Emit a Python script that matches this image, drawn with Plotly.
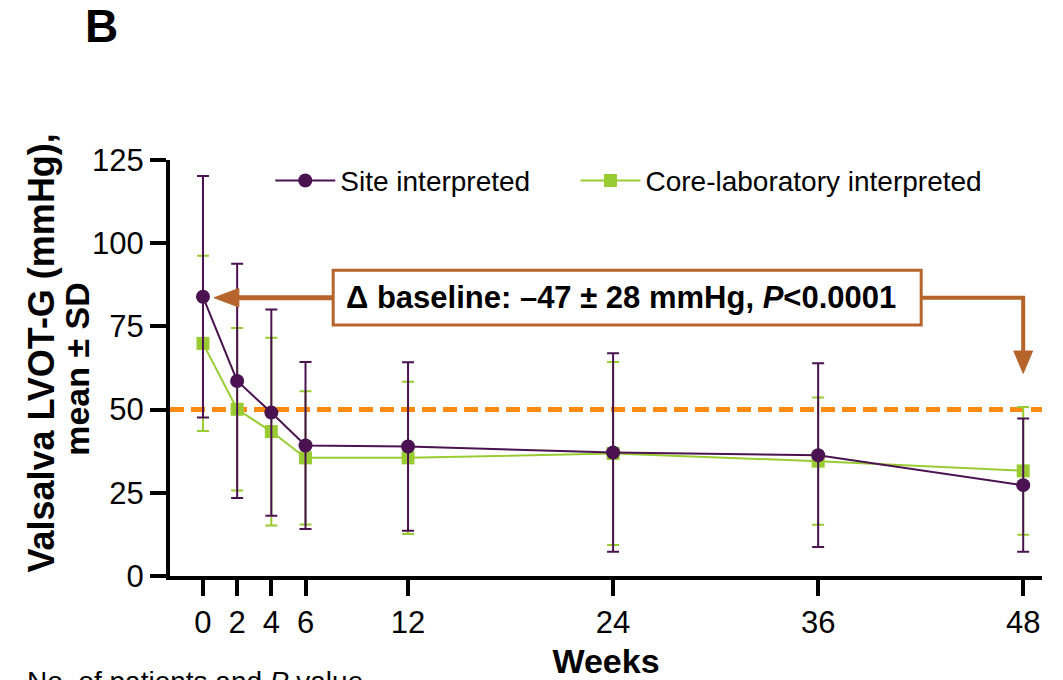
import plotly.graph_objects as go

weeks = [0, 2, 4, 6, 12, 24, 36, 48]
tick_labels = ["0", "2", "4", "6", "12", "24", "36", "48"]

site_mean = [83.9, 58.6, 49.1, 39.2, 38.9, 37.1, 36.3, 27.3]
site_sd = [36.3, 35.2, 31.0, 25.1, 25.3, 29.8, 27.6, 20.0]

core_mean = [69.9, 50.1, 43.4, 35.5, 35.5, 36.8, 34.5, 31.6]
core_sd = [26.3, 24.4, 28.2, 20.0, 22.9, 27.5, 19.1, 19.2]

threshold = 50
y_ticks = [0, 25, 50, 75, 100, 125]

PURPLE = "#4A1250"
GREEN = "#99CC33"
ORANGE = "#FF8A12"
BROWN = "#B5652B"
FONT = "Liberation Sans, Arial, sans-serif"

fig = go.Figure()

fig.add_trace(go.Scatter(
    x=weeks, y=core_mean, name="Core-laboratory interpreted",
    mode="lines+markers", legend="legend2",
    line=dict(color=GREEN, width=2),
    marker=dict(symbol="square", size=13, color=GREEN),
    error_y=dict(type="data", array=core_sd, symmetric=True,
                 color=GREEN, thickness=2, width=6),
))
fig.add_trace(go.Scatter(
    x=weeks, y=site_mean, name="Site interpreted",
    mode="lines+markers", legend="legend",
    line=dict(color=PURPLE, width=2),
    marker=dict(symbol="circle", size=14, color=PURPLE),
    error_y=dict(type="data", array=site_sd, symmetric=True,
                 color=PURPLE, thickness=2, width=6),
))

# threshold dashed line
fig.add_shape(type="line", xref="paper", x0=0, x1=1, yref="y",
              y0=threshold, y1=threshold,
              line=dict(color=ORANGE, width=5, dash="14px,7px"), layer="below")

# annotation box and arrows
y_arrow = 83.6
box_x0, box_x1 = 7.62, 42.03
box_y0, box_y1 = 75.4, 91.9
fig.add_shape(type="line", x0=box_x0, x1=2.0, y0=y_arrow, y1=y_arrow,
              line=dict(color=BROWN, width=5))
fig.add_shape(type="path",
              path=f"M 0.65 {y_arrow} L 2.1 {y_arrow+2.8} L 2.1 {y_arrow-2.8} Z",
              fillcolor=BROWN, line=dict(color=BROWN, width=1))
fig.add_shape(type="path",
              path=f"M {box_x1} {y_arrow} L {weeks[-1]} {y_arrow} L {weeks[-1]} 67.5",
              line=dict(color=BROWN, width=4))
fig.add_shape(type="path",
              path=f"M {weeks[-1]-0.55} 67.6 L {weeks[-1]+0.55} 67.6 L {weeks[-1]} 60.9 Z",
              fillcolor=BROWN, line=dict(color=BROWN, width=1))
fig.add_shape(type="rect", x0=box_x0, x1=box_x1, y0=box_y0, y1=box_y1,
              line=dict(color=BROWN, width=3), fillcolor="white")
fig.add_annotation(x=(box_x0 + box_x1) / 2 - 0.35, y=(box_y0 + box_y1) / 2,
                   xanchor="center", yanchor="middle",
                   text="<b>Δ baseline: –47 ± 28 mmHg, <i>P</i>&lt;0.0001</b>",
                   showarrow=False, font=dict(size=31, color="black", family=FONT))

# y-axis title (two lines)
fig.add_annotation(xref="paper", yref="paper", x=-0.1468, y=0.537,
                   xanchor="center", yanchor="middle",
                   text="<b>Valsalva LVOT-G (mmHg),</b>", textangle=-90,
                   showarrow=False, font=dict(size=36, color="black", family=FONT))
fig.add_annotation(xref="paper", yref="paper", x=-0.1067, y=0.498,
                   xanchor="center", yanchor="middle",
                   text="<b>mean ± SD</b>", textangle=-90,
                   showarrow=False, font=dict(size=34, color="black", family=FONT))

# panel letter
fig.add_annotation(xref="paper", yref="paper", x=-0.078, y=1.322,
                   xanchor="center", yanchor="middle",
                   text="<b>B</b>", showarrow=False,
                   font=dict(size=46, color="black", family=FONT))
# bottom partial label
fig.add_annotation(xref="paper", yref="paper", x=-0.1663, y=-0.211,
                   xanchor="left", yanchor="top",
                   text="No. of patients and <i>P</i> value", showarrow=False,
                   font=dict(size=28, color="black", family=FONT))

fig.update_layout(
    width=1055, height=672,
    margin=dict(l=162, r=21, t=152, b=104, autoexpand=False),
    plot_bgcolor="white", paper_bgcolor="white",
    font=dict(family=FONT, color="black", size=31),
    legend=dict(orientation="h", x=0.115, y=1.01, xanchor="left", yanchor="top",
                font=dict(size=28), bgcolor="rgba(0,0,0,0)", itemwidth=60),
    legend2=dict(orientation="h", x=0.465, y=1.01, xanchor="left", yanchor="top",
                 font=dict(size=28), bgcolor="rgba(0,0,0,0)", itemwidth=60),
    showlegend=True,
)
fig.update_xaxes(
    range=[-1.93, 49.1], tickvals=weeks, ticktext=tick_labels,
    showgrid=False, zeroline=False, showline=True, linecolor="black", linewidth=4,
    ticks="outside", ticklen=16, tickwidth=4, tickcolor="black",
    tickfont=dict(size=31), automargin=False,
    title=dict(text="<b>Weeks</b>", font=dict(size=34), standoff=15),
)
fig.update_yaxes(
    range=[0, 125], tickvals=y_ticks,
    showgrid=False, zeroline=False, showline=True, linecolor="black", linewidth=4,
    ticks="outside", ticklen=16, tickwidth=4, tickcolor="black",
    tickfont=dict(size=31), automargin=False,
)

fig.write_html("out.html")
